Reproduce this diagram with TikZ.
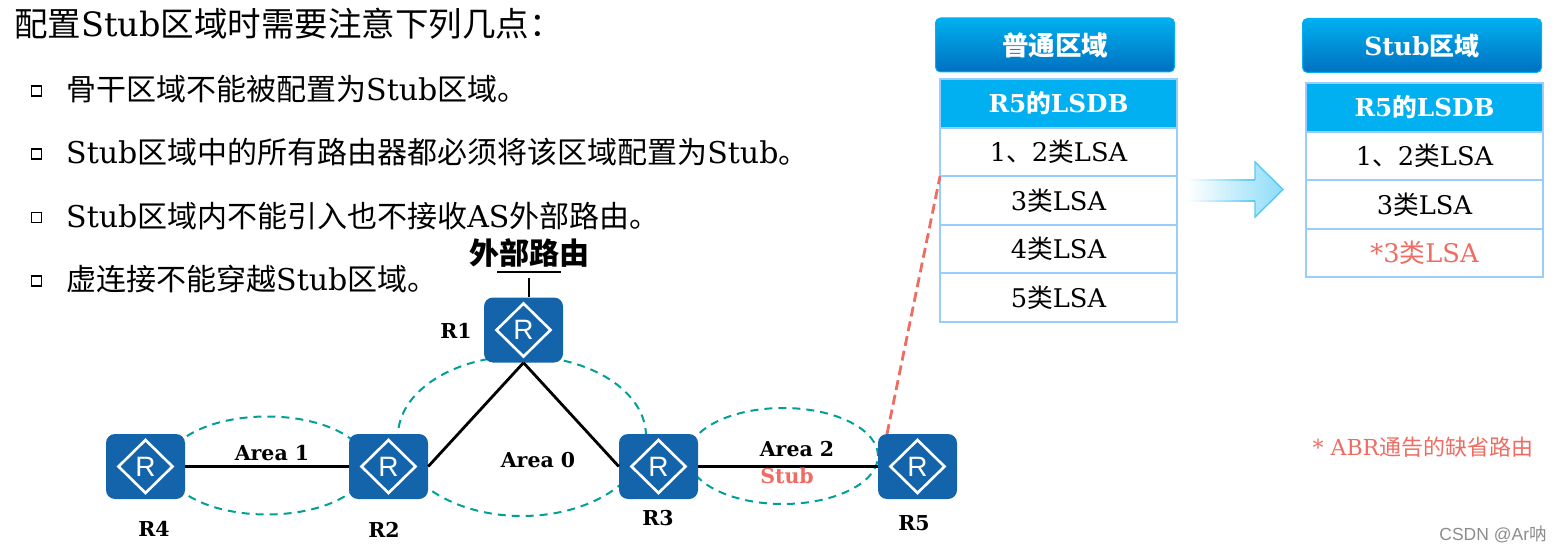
\documentclass[tikz,border=0pt]{standalone}
\usepackage{fontspec}
\setmainfont{DejaVu Serif}
\newfontfamily\cjk{Noto Sans CJK SC}
\newfontfamily\routerfont{Liberation Sans}
\newfontfamily\markfont{Liberation Sans}
\usetikzlibrary{positioning, shapes.geometric}
\definecolor{RouterBlue}{RGB}{20, 100, 172}
\definecolor{AreaTeal}{RGB}{0, 160, 150}
\definecolor{AccentRed}{RGB}{238, 108, 98}
\definecolor{HeadBlue}{RGB}{0, 176, 240}
\definecolor{DeepBlue}{RGB}{0, 112, 192}
\definecolor{CellLine}{RGB}{153, 204, 255}
\definecolor{ArrowBlue}{RGB}{140, 220, 248}
\definecolor{ArrowLine}{RGB}{90, 200, 245}
\newcommand{\zh}[1]{{\cjk #1}}
\newcommand{\fs}[1]{\fontsize{#1}{#1}\selectfont}

\begin{document}
\begin{tikzpicture}[x=1pt, y=-1pt,
      bodytext/.style={anchor=base west, inner sep=0pt, font=\fs{30}},
      tick/.style={rectangle, draw=black, line width=1.2pt, fill=white, minimum size=10pt, inner sep=0pt},
      router/.style={rectangle, rounded corners=9pt, fill=RouterBlue, text=white, minimum width=79pt, minimum height=65pt,
      inner sep=0pt, font=\routerfont\fs{28},
      path picture={\draw[white, line width=2.6pt, sharp corners] (path picture bounding box.center) +(-27pt,0pt) -- +(0pt,26.5pt) -- +(27pt,0pt) -- +(0pt,-26.5pt) -- cycle;}},
      tag/.style={inner sep=0pt, font=\bfseries\fs{20.5}},
      link/.style={draw=black, line width=2.8pt},
      area/.style={ellipse, draw=AreaTeal, line width=2pt, dash pattern=on 8pt off 6pt, inner sep=0pt},
      banner/.style={rectangle, rounded corners=5pt, draw=HeadBlue, line width=1pt, top color=HeadBlue, bottom color=DeepBlue, text=white,
      minimum width=239pt, minimum height=54pt, inner sep=0pt, font=\bfseries\fs{26.5}},
      cell/.style={rectangle, draw=CellLine, line width=2pt, fill=white, minimum width=237pt, minimum height=48.5pt, inner sep=0pt, outer sep=0pt,
      font=\fs{25.7}},
      headcell/.style={cell, fill=HeadBlue, text=white, font=\bfseries\fs{24.7}}
    ]
      \useasboundingbox (0,0) rectangle (1562,553);

      % text on the left
      \node[anchor=base west, inner sep=0pt, font=\fs{33.5}] (title) at (14,37) {\zh{配置}Stub\zh{区域时需要注意下列几点：}};
      \node[bodytext] (p1) at (66,101) {\zh{骨干区域不能被配置为}Stub\zh{区域。}};
      \node[bodytext] (p2) at (66,164) {Stub\zh{区域中的所有路由器都必须将该区域配置为}Stub\zh{。}};
      \node[bodytext] (p3) at (66,228) {Stub\zh{区域内不能引入也不接收}AS\zh{外部路由。}};
      \node[bodytext] (p4) at (66,290) {\zh{虚连接不能穿越}Stub\zh{区域。}};
      \node[tick] (t1) at (36.5,91) {};
      \node[tick] (t2) at (36.5,154) {};
      \node[tick] (t3) at (36.5,217.5) {};
      \node[tick] (t4) at (36.5,281) {};

      % areas go first, the routers hide their ends
      \node[area, minimum width=200pt, minimum height=98pt] (area1) at (267,465.5) {};
      \node[area, minimum width=248pt, minimum height=160pt] (area0) at (522,436) {};
      \node[area, minimum width=190pt, minimum height=96pt] (area2) at (783,456) {};

      \node[router] (R1) at (523.5,330) {R};
      \node[router] (R2) at (388.5,466.5) {R};
      \node[router] (R3) at (658.5,466.5) {R};
      \node[router] (R4) at (145.5,466.5) {R};
      \node[router] (R5) at (917.5,466.5) {R};

      \node[tag] (lR1) at (456,331) {R1};
      \node[tag] (lR2) at (384,530) {R2};
      \node[tag] (lR3) at (658,518) {R3};
      \node[tag] (lR4) at (154,529) {R4};
      \node[tag] (lR5) at (914,523) {R5};

      \draw[link] (R4) -- (R2);
      \draw[link] (R3) -- (R5);
      \draw[link] (R2.east) -- (R1.south);
      \draw[link] (R1.south) -- (R3.west);

      % external route
      \node[inner sep=0pt, font=\bfseries\fs{30}] (ext) at (529,253) {\zh{外部路由}};
      \coordinate (barL) at (497,272);
      \coordinate (barR) at (561,272);
      \coordinate (barT) at (529,278);
      \draw[link] (barL) -- (barR);
      \draw[link] (barT) -- (barT |- R1.north);

      \node[tag] (a1) at (272,453) {Area 1};
      \node[tag] (a0) at (538,460) {Area 0};
      \node[tag] (a2) at (797,449) {Area 2};
      \node[tag, text=AccentRed] (stub) at (787,476) {Stub};

      % LSDB of the normal area
      \node[banner] (hdA) at (1055,45) {\zh{普通区域}};
      \node[headcell] (a0c) at (1058.5,103.5) {R5\zh{的}LSDB};
      \node[cell, below=0pt of a0c] (a1c) {1\zh{、}2\zh{类}LSA};
      \node[cell, below=0pt of a1c] (a2c) {3\zh{类}LSA};
      \node[cell, below=0pt of a2c] (a3c) {4\zh{类}LSA};
      \node[cell, below=0pt of a3c] (a4c) {5\zh{类}LSA};

      % LSDB of the stub area
      \node[banner, font=\bfseries\fs{25}] (hdB) at (1422,45.5) {Stub\zh{区域}};
      \node[headcell] (b0c) at (1424.5,107.5) {R5\zh{的}LSDB};
      \node[cell, below=0pt of b0c] (b1c) {1\zh{、}2\zh{类}LSA};
      \node[cell, below=0pt of b1c] (b2c) {3\zh{类}LSA};
      \node[cell, below=0pt of b2c, text=AccentRed] (b3c) {*3\zh{类}LSA};

      \coordinate (R5top) at (887,434);
      \draw[AccentRed, line width=2.8pt, dash pattern=on 10pt off 5pt] (R5top) -- (a2c.north west);

      % arrow between the two tables
      \shade[left color=white, right color=ArrowBlue] (1187,180) -- (1255,180) -- (1255,162) -- (1283,189.5) -- (1255,217) -- (1255,201) -- (1187,201) -- cycle;
      \shade[left color=white, right color=ArrowLine] (1187,179.3) rectangle (1255,180.7);
      \shade[left color=white, right color=ArrowLine] (1187,200.3) rectangle (1255,201.7);
      \draw[ArrowLine, line width=1.4pt] (1255,180) -- (1255,162) -- (1283,189.5) -- (1255,217) -- (1255,201);

      \node[inner sep=0pt, text=AccentRed, font=\fs{22}] (note) at (1423,447) {* ABR\zh{通告的缺省路由}};
      \node[inner sep=0pt, text=black!45, font=\markfont\fs{17.5}] (mark) at (1493,534) {CSDN @Ar\zh{呐}};
    \end{tikzpicture}
\end{document}
